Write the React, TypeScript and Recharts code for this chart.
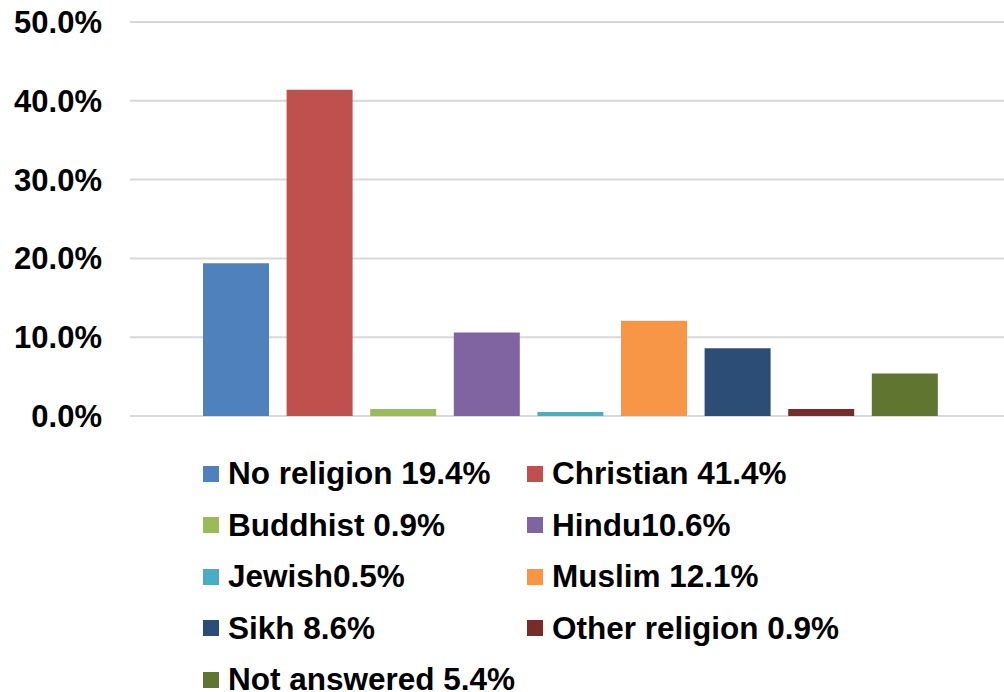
import { BarChart, Bar, XAxis, YAxis, CartesianGrid, Legend } from 'recharts';

const religions = [
  'No religion',
  'Christian',
  'Buddhist',
  'Hindu',
  'Jewish',
  'Muslim',
  'Sikh',
  'Other religion',
  'Not answered',
];

const shares = [19.4, 41.4, 0.9, 10.6, 0.5, 12.1, 8.6, 0.9, 5.4];

const legendLabels = [
  'No religion 19.4%',
  'Christian 41.4%',
  'Buddhist 0.9%',
  'Hindu10.6%',
  'Jewish0.5%',
  'Muslim 12.1%',
  'Sikh 8.6%',
  'Other religion 0.9%',
  'Not answered 5.4%',
];

const colors = [
  '#4F81BD',
  '#C0504D',
  '#9BBB59',
  '#8064A2',
  '#4BACC6',
  '#F79646',
  '#2C4D75',
  '#772C2A',
  '#5F7530',
];

const yTicks = [0, 10, 20, 30, 40, 50];

const row: Record<string, number | string> = { name: 'Religion' };
religions.forEach((r, i) => {
  row[r] = shares[i];
});
const data = [row];

const font = '"Liberation Sans", Arial, sans-serif';

function LegendBox() {
  return (
    <div
      style={{
        display: 'grid',
        gridTemplateColumns: '324px 324px',
        gridAutoRows: '51.5px',
        paddingLeft: 203,
        paddingTop: 32,
        fontFamily: font,
        fontWeight: 'bold',
        fontSize: 31.5,
        lineHeight: 1,
        color: '#000',
      }}
    >
      {legendLabels.map((label, i) => (
        <div key={label} style={{ display: 'flex', alignItems: 'center', whiteSpace: 'nowrap' }}>
          <span
            style={{
              display: 'inline-block',
              width: 16,
              height: 16,
              background: colors[i],
              marginRight: 9,
            }}
          />
          <span>{label}</span>
        </div>
      ))}
    </div>
  );
}

export default function App() {
  return (
    <div
      style={{
        position: 'absolute',
        left: 0,
        top: 0,
        width: 1004,
        height: 692,
        overflow: 'hidden',
        background: '#fff',
      }}
    >
      <BarChart
        width={1012}
        height={692}
        data={data}
        margin={{ top: 22, right: 1, left: 0, bottom: 0 }}
        barSize={66}
        barGap={17.6}
      >
        <CartesianGrid vertical={false} stroke="#d9d9d9" strokeWidth={2} />
        <XAxis dataKey="name" hide />
        <YAxis
          width={130}
          domain={[0, 50]}
          ticks={yTicks}
          tickFormatter={(v) => `${Number(v).toFixed(1)}%`}
          axisLine={false}
          tickLine={false}
          tickSize={0}
          tickMargin={28}
          tick={{ fill: '#000', fontSize: 31, fontWeight: 'bold', fontFamily: font }}
        />
        <Legend
          verticalAlign="bottom"
          height={276}
          wrapperStyle={{ left: 0, width: 1004 }}
          content={() => <LegendBox />}
        />
        {religions.map((r, i) => (
          <Bar key={r} dataKey={r} fill={colors[i]} isAnimationActive={false} />
        ))}
      </BarChart>
    </div>
  );
}
